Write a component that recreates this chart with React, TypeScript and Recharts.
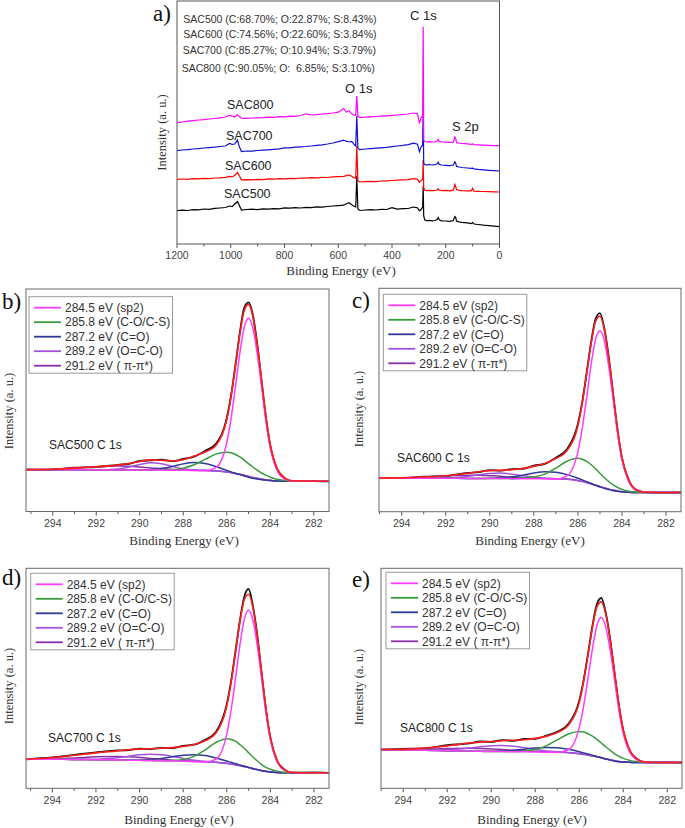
import React from "react";
import { LineChart, Line, XAxis, YAxis } from "recharts";

// ---------------- Panel a: XPS survey ----------------
const surveyEnergy = [
  1200, 1180, 1160, 1140, 1120, 1100, 1080, 1060, 1040, 1020, 1005, 995, 985, 975, 968, 960,
  940, 920, 900, 880, 860, 840, 820, 800, 780, 760, 740, 720, 700, 680, 660, 640, 620, 600,
  580, 570, 560, 550, 540, 535, 531, 527, 520, 500, 480, 460, 440, 420, 400, 380, 360, 340, 320,
  305, 298, 292, 286, 284, 282, 278, 270, 260, 250, 240, 232, 228, 224, 215, 200, 185, 172, 166,
  163, 160, 150, 140, 120, 105, 100, 95, 80, 60, 40, 20, 0,
];
const surveySAC500 = [
  33.3, 33.8, 33.5, 34.4, 34.1, 35.0, 34.7, 35.6, 36.0, 36.5, 38.0, 37.4, 40.0, 42.5, 38.5, 34.0,
  34.5, 34.8, 34.4, 35.1, 34.9, 35.4, 35.2, 36.1, 35.8, 36.3, 36.0, 36.7, 36.4, 37.2, 36.9, 37.5, 38.0, 38.4,
  38.8, 40.2, 41.2, 39.2, 37.5, 37.0, 68.0, 35.0, 33.5, 34.0, 34.3, 34.0, 34.7, 34.5, 36.4, 34.9, 35.3, 35.5, 37.0,
  36.2, 33.2, 34.5, 37.0, 58.0, 28.0, 24.0, 23.4, 23.7, 23.2, 23.5, 24.5, 26.5, 24.2, 23.2, 23.0, 22.7, 23.5, 27.5,
  26.8, 23.0, 22.2, 21.7, 21.1, 20.4, 21.4, 20.0, 19.5, 18.8, 18.4, 17.8, 17.3,
];
const surveySAC600 = [
  64.7, 65.0, 64.7, 65.4, 65.1, 65.7, 65.4, 66.0, 66.2, 66.7, 67.6, 67.1, 68.8, 71.5, 68.2, 64.2,
  64.4, 64.1, 64.6, 64.4, 65.1, 64.8, 65.3, 65.1, 65.7, 65.4, 66.0, 65.8, 66.4, 66.1, 66.7, 66.5, 67.1, 67.4,
  67.7, 68.3, 69.0, 67.8, 66.0, 65.5, 98.0, 63.5, 62.0, 62.4, 62.7, 62.4, 63.0, 63.2, 63.5, 63.8, 64.1, 64.4, 65.4,
  64.6, 61.7, 63.6, 64.5, 84.0, 56.0, 53.8, 53.4, 53.7, 53.3, 53.5, 54.2, 55.2, 53.8, 53.4, 53.6, 53.2, 53.8, 59.5,
  57.2, 54.5, 53.7, 53.4, 53.1, 53.2, 55.7, 52.8, 52.7, 52.5, 52.3, 52.1, 52.0,
];
const surveySAC700 = [
  93.3, 94.0, 94.4, 95.0, 95.3, 96.0, 96.4, 96.8, 97.5, 98.0, 100.5, 99.7, 100.0, 104.0, 97.2, 92.5,
  93.0, 92.8, 93.5, 93.8, 94.2, 94.7, 95.1, 96.2, 96.1, 96.8, 97.2, 97.5, 98.0, 98.6, 99.2, 100.0, 101.0, 102.4,
  103.8, 102.8, 102.0, 102.6, 99.2, 98.0, 128.0, 96.0, 94.4, 95.0, 95.4, 95.8, 96.2, 96.6, 97.4, 98.0, 98.6, 99.4, 100.8,
  99.8, 92.3, 97.0, 99.0, 136.0, 81.0, 79.4, 79.1, 79.5, 79.0, 79.3, 80.2, 81.8, 79.6, 79.0, 78.7, 78.4, 79.0, 82.2,
  80.8, 77.6, 77.0, 76.5, 76.0, 75.6, 75.8, 75.2, 74.7, 74.2, 73.7, 73.3, 73.0,
];
const surveySAC800 = [
  121.3, 122.0, 122.8, 123.4, 124.0, 124.3, 125.0, 125.5, 126.2, 127.0, 128.5, 127.8, 127.2, 129.5, 127.4, 125.8,
  125.6, 126.0, 126.2, 126.4, 126.8, 126.7, 127.3, 127.2, 127.8, 127.6, 128.5, 130.2, 129.0, 129.4, 130.0, 130.4, 131.0, 131.8,
  135.5, 132.0, 133.2, 130.2, 129.0, 128.5, 148.0, 128.0, 126.6, 126.8, 127.2, 127.5, 127.8, 128.2, 128.6, 129.0, 129.5, 130.0, 131.0,
  130.2, 120.5, 126.0, 128.0, 217.3, 104.0, 102.5, 102.2, 102.4, 102.0, 102.2, 103.0, 104.7, 102.6, 102.0, 101.8, 101.5, 101.8, 107.0,
  105.6, 101.4, 101.0, 100.6, 100.1, 99.7, 100.0, 99.4, 99.1, 98.8, 98.6, 98.4, 98.3,
];
const surveyTicks = [1200, 1100, 1000, 900, 800, 700, 600, 500, 400, 300, 200, 100, 0];
const surveyNames = ["SAC500", "SAC600", "SAC700", "SAC800"];
const surveyColors = ["#000000", "#ff0000", "#1010d0", "#ff00ff"];
const compositionLines = [
  "SAC500 (C:68.70%; O:22.87%; S:8.43%)",
  "SAC600 (C:74.56%; O:22.60%; S:3.84%)",
  "SAC700 (C:85.27%; O:10.94%; S:3.79%)",
  "SAC800 (C:90.05%; O:  6.85%; S:3.10%)",
];

// ---------------- Panels b-e: C 1s high resolution ----------------
const c1sEnergy = [
  295.2, 294, 293, 292, 291, 290.5, 290, 289.5, 289, 288.5, 288, 287.5, 287, 286.5, 286,
  285.8, 285.6, 285.4, 285.2, 285, 284.8, 284.6, 284.4, 284.2, 284, 283.7, 283.4, 283, 282, 281.3,
];
const c1sTicks = [295, 294, 293, 292, 291, 290, 289, 288, 287, 286, 285, 284, 283, 282];
const componentNames = [
  "284.5 eV (sp2)",
  "285.8 eV (C-O/C-S)",
  "287.2 eV (C=O)",
  "289.2 eV (O=C-O)",
  "291.2 eV ( π-π*)",
];
const componentColors = ["#ff3cff", "#3a9a3a", "#2e3a94", "#a452e0", "#8a2ea6"];
const rawColor = "#151515";
const fitColor = "#ff1e1e";

// SAC500
const sac500Raw = [18.9, 18.8, 19.7, 20.0, 21.0, 21.4, 22.7, 23.0, 23.3, 22.6, 23.6, 24.7, 27.2, 30.4, 42.0, 52.3, 65.9, 80.3, 91.4, 94.0, 88.3, 75.4, 58.6, 42.3, 29.6, 19.4, 15.6, 13.7, 13.7, 13.5];
const sac500Fit = [18.8, 19.0, 19.5, 20.1, 20.85, 21.6, 22.5, 23.2, 23.0, 22.7, 23.3, 24.9, 26.75, 29.7, 41.35, 51.85, 65.5, 79.6, 90.2, 93.1, 87.5, 75.0, 59.0, 42.7, 30.0, 19.6, 15.4, 13.8, 13.6, 13.6];
const sac500Sp2 = [18.8, 18.8, 18.8, 18.7, 18.7, 18.7, 18.6, 18.6, 18.6, 18.5, 18.5, 18.4, 18.3, 19.7, 31.0, 41.9, 56.1, 71.1, 82.7, 86.8, 82.4, 71.0, 56.0, 40.5, 28.5, 18.8, 15.0, 13.7, 13.6, 13.6];
const sac500CO = [18.8, 18.8, 18.8, 18.7, 18.7, 18.7, 18.6, 18.6, 18.7, 18.8, 19.5, 21.0, 23.4, 25.8, 26.6, 26.4, 25.6, 24.5, 23.1, 21.5, 20.0, 18.6, 17.3, 16.3, 15.4, 14.5, 14.0, 13.7, 13.6, 13.6];
const sac500CdO = [18.8, 18.8, 18.8, 18.7, 18.7, 18.7, 18.65, 18.8, 19.3, 20.2, 21.4, 22.0, 21.6, 20.2, 18.5, 17.8, 17.2, 16.6, 16.0, 15.4, 14.9, 14.6, 14.3, 14.1, 13.9, 13.7, 13.6, 13.6, 13.6, 13.6];
const sac500OCO = [18.8, 18.8, 18.8, 18.7, 19.15, 20.0, 21.1, 21.9, 21.5, 20.25, 19.2, 18.6, 18.4, 18.2, 17.7, 17.4, 17.0, 16.6, 16.1, 15.6, 15.2, 14.8, 14.5, 14.2, 13.9, 13.7, 13.6, 13.6, 13.6, 13.6];
const sac500Pi = [18.8, 19.0, 19.5, 20.1, 20.4, 20.3, 20.0, 19.6, 19.3, 18.9, 18.7, 18.6, 18.5, 18.3, 17.8, 17.5, 17.1, 16.8, 16.3, 15.8, 15.3, 14.9, 14.6, 14.3, 14.0, 13.7, 13.6, 13.6, 13.6, 13.6];

// SAC600
const sac600Raw = [15.1, 15.0, 15.7, 16.0, 17.4, 17.7, 18.6, 18.4, 19.1, 19.2, 20.6, 21.4, 24.2, 27.9, 39.4, 49.3, 62.4, 75.9, 86.2, 88.9, 82.0, 69.2, 52.5, 36.4, 24.0, 14.4, 10.0, 8.8, 8.5, 8.6];
const sac600Fit = [15.0, 15.15, 15.5, 16.1, 17.2, 17.9, 18.4, 18.5, 18.8, 19.4, 20.3, 21.6, 23.8, 27.3, 38.6, 48.8, 61.9, 75.2, 85.15, 87.5, 81.5, 68.8, 52.9, 36.75, 24.3, 14.2, 10.2, 8.7, 8.6, 8.6];
const sac600Sp2 = [15.0, 15.0, 15.0, 15.0, 14.9, 14.9, 14.9, 14.9, 14.8, 14.8, 14.8, 14.7, 14.6, 16.0, 26.9, 37.5, 51.3, 65.8, 77.1, 81.0, 76.5, 65.1, 50.3, 35.0, 23.2, 13.7, 10.0, 8.7, 8.6, 8.6];
const sac600CO = [15.0, 15.0, 15.0, 15.0, 14.9, 14.9, 14.9, 14.9, 14.8, 15.0, 15.5, 16.8, 19.5, 22.6, 23.9, 23.5, 22.5, 21.0, 19.2, 17.2, 15.2, 13.5, 12.0, 10.85, 10.0, 9.2, 8.8, 8.65, 8.6, 8.6];
const sac600CdO = [15.0, 15.0, 15.0, 15.0, 14.9, 14.9, 15.0, 15.2, 15.55, 16.35, 17.3, 17.85, 17.65, 16.6, 15.0, 14.25, 13.45, 12.6, 11.85, 11.1, 10.45, 9.9, 9.4, 9.1, 8.9, 8.7, 8.6, 8.6, 8.6, 8.6];
const sac600OCO = [15.0, 15.0, 15.0, 15.15, 15.8, 16.5, 17.1, 17.3, 16.8, 16.1, 15.5, 14.95, 14.8, 14.5, 13.9, 13.5, 13.0, 12.4, 11.8, 11.2, 10.6, 10.0, 9.6, 9.2, 8.9, 8.7, 8.6, 8.6, 8.6, 8.6];
const sac600Pi = [15.0, 15.15, 15.5, 16.0, 16.3, 16.3, 16.1, 15.9, 15.5, 15.2, 15.05, 14.9, 14.8, 14.6, 14.0, 13.6, 13.1, 12.5, 11.9, 11.3, 10.7, 10.1, 9.7, 9.3, 9.0, 8.7, 8.6, 8.6, 8.6, 8.6];

// SAC700
const sac700Raw = [13.2, 14.0, 15.2, 16.3, 17.2, 17.4, 18.0, 17.8, 18.4, 18.3, 19.3, 19.8, 22.0, 25.6, 38.2, 48.8, 62.3, 76.1, 87.0, 90.6, 82.9, 69.6, 52.2, 35.7, 23.0, 12.7, 8.9, 7.1, 7.2, 7.0];
const sac700Fit = [13.35, 13.9, 15.0, 16.1, 17.0, 17.5, 17.8, 18.0, 18.2, 18.5, 19.0, 19.9, 21.6, 25.0, 37.5, 48.2, 61.7, 75.4, 85.7, 88.2, 82.1, 69.1, 52.6, 36.05, 23.25, 12.9, 8.75, 7.2, 7.1, 7.1];
const sac700Sp2 = [13.3, 13.2, 13.1, 13.0, 12.9, 12.8, 12.7, 12.6, 12.5, 12.4, 12.3, 12.1, 11.9, 13.2, 24.6, 35.6, 49.9, 64.9, 76.7, 80.9, 76.4, 64.9, 49.7, 34.1, 22.0, 12.3, 8.5, 7.2, 7.1, 7.1];
const sac700CO = [13.3, 13.2, 13.1, 13.0, 12.9, 12.8, 12.7, 12.6, 12.5, 12.6, 13.1, 14.5, 17.4, 20.8, 22.5, 22.2, 21.4, 19.9, 18.2, 16.2, 14.2, 12.4, 10.8, 9.55, 8.65, 7.8, 7.35, 7.15, 7.1, 7.1];
const sac700CdO = [13.3, 13.2, 13.1, 13.0, 12.9, 12.85, 12.9, 13.1, 13.6, 14.35, 15.05, 15.3, 14.9, 13.8, 12.4, 11.8, 11.25, 10.6, 10.0, 9.5, 8.9, 8.4, 7.95, 7.6, 7.4, 7.2, 7.1, 7.1, 7.1, 7.1];
const sac700OCO = [13.3, 13.2, 13.1, 13.2, 13.9, 14.55, 15.2, 15.5, 15.2, 14.5, 13.6, 12.75, 12.3, 11.8, 11.3, 11.0, 10.6, 10.2, 9.8, 9.4, 8.9, 8.5, 8.0, 7.7, 7.4, 7.2, 7.1, 7.1, 7.1, 7.1];
const sac700Pi = [13.3, 13.4, 13.75, 14.3, 14.5, 14.3, 14.0, 13.6, 13.15, 12.8, 12.5, 12.3, 12.1, 11.8, 11.4, 11.1, 10.8, 10.4, 10.0, 9.5, 9.0, 8.6, 8.1, 7.8, 7.5, 7.2, 7.1, 7.1, 7.1, 7.1];

// SAC800
const sac800Raw = [17.5, 17.9, 18.2, 19.6, 20.4, 21.3, 21.1, 21.9, 21.6, 22.4, 22.5, 23.9, 25.7, 29.2, 39.8, 49.3, 61.3, 73.9, 83.6, 86.5, 80.1, 68.2, 52.7, 37.8, 26.3, 17.0, 13.6, 11.8, 11.8, 11.6];
const sac800Fit = [17.6, 17.7, 18.3, 19.3, 20.6, 21.0, 21.3, 21.6, 21.8, 22.1, 22.7, 23.6, 25.3, 28.7, 39.05, 48.6, 60.7, 73.1, 82.4, 84.75, 79.4, 67.8, 53.1, 38.15, 26.6, 17.2, 13.45, 11.95, 11.7, 11.7];
const sac800Sp2 = [17.6, 17.4, 17.3, 17.1, 16.9, 16.8, 16.7, 16.7, 16.6, 16.6, 16.5, 16.4, 16.3, 17.5, 27.6, 37.4, 50.1, 63.4, 73.9, 77.6, 73.5, 63.2, 49.7, 35.7, 24.9, 16.3, 13.0, 11.8, 11.7, 11.7];
const sac800CO = [17.6, 17.4, 17.3, 17.1, 16.9, 16.8, 16.7, 16.7, 16.7, 16.95, 17.65, 19.3, 22.0, 24.7, 25.85, 25.55, 24.8, 23.7, 22.2, 20.6, 18.9, 17.3, 15.8, 14.55, 13.6, 12.7, 12.15, 11.85, 11.7, 11.7];
const sac800CdO = [17.6, 17.4, 17.3, 17.1, 16.9, 16.85, 16.8, 17.0, 17.3, 17.8, 18.3, 18.55, 18.4, 17.7, 16.6, 16.05, 15.55, 15.0, 14.45, 13.95, 13.35, 12.9, 12.45, 12.1, 11.9, 11.8, 11.7, 11.7, 11.7, 11.7];
const sac800OCO = [17.6, 17.4, 17.35, 17.5, 18.3, 18.9, 19.35, 19.5, 19.1, 18.45, 17.65, 17.0, 16.6, 16.3, 15.8, 15.5, 15.2, 14.8, 14.4, 13.9, 13.4, 13.0, 12.5, 12.2, 11.9, 11.8, 11.7, 11.7, 11.7, 11.7];
const sac800Pi = [17.6, 17.55, 17.75, 18.05, 18.2, 18.05, 17.85, 17.6, 17.25, 17.0, 16.8, 16.6, 16.5, 16.2, 15.7, 15.4, 15.1, 14.7, 14.3, 13.8, 13.3, 12.9, 12.5, 12.2, 11.9, 11.8, 11.7, 11.7, 11.7, 11.7];

// ---------------- layout ----------------
const PAGE_W = 685;
const PAGE_H = 828;
const AXIS_H = 30;
const SANS = "'Liberation Sans', Arial, Helvetica, sans-serif";
const SERIF = "'Liberation Serif', 'Times New Roman', Times, serif";

type Rect = { x1: number; x2: number; y1: number; y2: number };

const makeTick = (axisY: number, majorStep: number, labelDy: number, fontSize: number) => (props: any) => {
  const { x, payload } = props;
  const v = payload.value as number;
  const major = Math.abs(v / majorStep - Math.round(v / majorStep)) < 1e-6;
  return (
    <g>
      <line x1={x} x2={x} y1={axisY} y2={axisY + (major ? 4 : 2.5)} stroke="#555" strokeWidth={1} />
      {major && (
        <text x={x} y={axisY + labelDy} textAnchor="middle" fontSize={fontSize} fill="#444" fontFamily={SANS}>
          {v}
        </text>
      )}
    </g>
  );
};

type SeriesDef = { key: string; color: string; width: number };

function Panel(props: {
  rect: Rect;
  xDomain: [number, number];
  yDomain: [number, number];
  data: any[];
  series: SeriesDef[];
  ticks: number[];
  majorStep: number;
  labelDy: number;
  curve: "linear" | "monotone";
}) {
  const { rect, xDomain, yDomain, data, series, ticks, majorStep, labelDy, curve } = props;
  const margin = {
    left: rect.x1,
    right: PAGE_W - rect.x2,
    top: rect.y1,
    bottom: PAGE_H - rect.y2 - AXIS_H,
  };
  return (
    <div style={{ position: "absolute", left: 0, top: 0 }}>
      <LineChart width={PAGE_W} height={PAGE_H} data={data} margin={margin}>
        <XAxis
          dataKey="e"
          type="number"
          domain={xDomain}
          reversed
          allowDataOverflow
          ticks={ticks}
          interval={0}
          axisLine={false}
          tickLine={false}
          height={AXIS_H}
          tick={makeTick(rect.y2, majorStep, labelDy, 10.5)}
        />
        <YAxis type="number" domain={yDomain} hide allowDataOverflow />
        {series.map((s) => (
          <Line
            key={s.key}
            dataKey={s.key}
            type={curve}
            stroke={s.color}
            strokeWidth={s.width}
            dot={false}
            activeDot={false}
            isAnimationActive={false}
          />
        ))}
      </LineChart>
    </div>
  );
}

const surveyData = surveyEnergy.map((e, i) => ({
  e,
  s500: surveySAC500[i],
  s600: surveySAC600[i],
  s700: surveySAC700[i],
  s800: surveySAC800[i],
}));
const surveySeries: SeriesDef[] = ["s500", "s600", "s700", "s800"].map((k, i) => ({
  key: k,
  color: surveyColors[i],
  width: 1.2,
}));

function buildC1s(raw: number[], fit: number[], comps: number[][]) {
  return c1sEnergy.map((e, i) => ({
    e,
    raw: raw[i],
    fit: fit[i],
    c0: comps[0][i],
    c1: comps[1][i],
    c2: comps[2][i],
    c3: comps[3][i],
    c4: comps[4][i],
  }));
}

const c1sSeries: SeriesDef[] = [
  { key: "raw", color: rawColor, width: 1.8 },
  { key: "c4", color: componentColors[4], width: 1.5 },
  { key: "c3", color: componentColors[3], width: 1.5 },
  { key: "c2", color: componentColors[2], width: 1.5 },
  { key: "c1", color: componentColors[1], width: 1.5 },
  { key: "c0", color: componentColors[0], width: 1.5 },
  { key: "fit", color: fitColor, width: 1.6 },
];

const c1sPanels = [
  {
    id: "b",
    name: "SAC500 C 1s",
    rect: { x1: 26, x2: 329, y1: 289, y2: 511.5 },
    xDomain: [281.3, 295.23] as [number, number],
    data: buildC1s(sac500Raw, sac500Fit, [sac500Sp2, sac500CO, sac500CdO, sac500OCO, sac500Pi]),
    legend: { x: 29, y: 296.7 },
    tag: { x: 2, y: 309 },
    sampleLabel: { x: 49, y: 449 },
    yTitle: { x: 8.5, y: 411 },
    xTitle: { x: 184, y: 545 },
  },
  {
    id: "c",
    name: "SAC600 C 1s",
    rect: { x1: 379, x2: 681, y1: 288.3, y2: 511.7 },
    xDomain: [281.32, 295.03] as [number, number],
    data: buildC1s(sac600Raw, sac600Fit, [sac600Sp2, sac600CO, sac600CdO, sac600OCO, sac600Pi]),
    legend: { x: 383.3, y: 294.3 },
    tag: { x: 352, y: 308 },
    sampleLabel: { x: 397, y: 462 },
    yTitle: { x: 358.5, y: 409 },
    xTitle: { x: 530, y: 545 },
  },
  {
    id: "d",
    name: "SAC700 C 1s",
    rect: { x1: 26, x2: 329, y1: 568.3, y2: 788.3 },
    xDomain: [281.31, 295.21] as [number, number],
    data: buildC1s(sac700Raw, sac700Fit, [sac700Sp2, sac700CO, sac700CdO, sac700OCO, sac700Pi]),
    legend: { x: 30.7, y: 573.3 },
    tag: { x: 2, y: 584.5 },
    sampleLabel: { x: 48, y: 742 },
    yTitle: { x: 8.5, y: 686 },
    xTitle: { x: 179, y: 824 },
  },
  {
    id: "e",
    name: "SAC800 C 1s",
    rect: { x1: 381, x2: 682, y1: 568.3, y2: 788.3 },
    xDomain: [281.33, 295.01] as [number, number],
    data: buildC1s(sac800Raw, sac800Fit, [sac800Sp2, sac800CO, sac800CdO, sac800OCO, sac800Pi]),
    legend: { x: 386, y: 572.3 },
    tag: { x: 352, y: 586.5 },
    sampleLabel: { x: 400, y: 732 },
    yTitle: { x: 359, y: 687 },
    xTitle: { x: 532, y: 824 },
  },
];

const surveyRect: Rect = { x1: 177, x2: 499.5, y1: 1, y2: 244 };

export default function App() {
  return (
    <div style={{ position: "absolute", left: 0, top: 0, width: PAGE_W, height: PAGE_H, background: "#fff", overflow: "hidden" }}>
      <Panel
        rect={surveyRect}
        xDomain={[0, 1200]}
        yDomain={[0, 243]}
        data={surveyData}
        series={surveySeries}
        ticks={surveyTicks}
        majorStep={200}
        labelDy={14.5}
        curve="linear"
      />
      {c1sPanels.map((p) => (
        <Panel
          key={p.id}
          rect={p.rect}
          xDomain={p.xDomain}
          yDomain={[0, 100]}
          data={p.data}
          series={c1sSeries}
          ticks={c1sTicks}
          majorStep={2}
          labelDy={15.5}
          curve="monotone"
        />
      ))}
      <svg width={PAGE_W} height={PAGE_H} style={{ position: "absolute", left: 0, top: 0, pointerEvents: "none" }}>
        {/* panel a frame and texts */}
        <rect x={surveyRect.x1} y={surveyRect.y1} width={surveyRect.x2 - surveyRect.x1} height={surveyRect.y2 - surveyRect.y1} fill="none" stroke="#555" strokeWidth={1} />
        <text x={153} y={21} fontSize={23} fontFamily={SERIF} fill="#111">a)</text>
        {compositionLines.map((t, i) => (
          <text key={t} x={[183.3, 183.3, 182.7, 181.7][i]} y={[23, 38.3, 54, 72.3][i]} fontSize={10.5} fontFamily={SANS} fill="#333" style={{ whiteSpace: "pre" }}>
            {t}
          </text>
        ))}
        {surveyNames.map((n, i) => (
          <text key={n} x={[224, 225, 226, 227][i]} y={[197.5, 169.5, 139.5, 108.5][i]} fontSize={12.5} fontFamily={SANS} fill="#222">
            {n}
          </text>
        ))}
        <text x={345} y={92.5} fontSize={13} fontFamily={SANS} fill="#222">O 1s</text>
        <text x={410} y={19.5} fontSize={13} fontFamily={SANS} fill="#222">C 1s</text>
        <text x={452} y={130.5} fontSize={13} fontFamily={SANS} fill="#222">S 2p</text>
        <text x={341} y={275} textAnchor="middle" fontSize={13} fontFamily={SERIF} fill="#333">Binding Energy (eV)</text>
        <text transform="translate(165.5,132.5) rotate(-90)" textAnchor="middle" fontSize={12.5} fontFamily={SERIF} fill="#333">Intensity (a. u.)</text>

        {c1sPanels.map((p) => (
          <g key={p.id}>
            <rect x={p.rect.x1} y={p.rect.y1} width={p.rect.x2 - p.rect.x1} height={p.rect.y2 - p.rect.y1} fill="none" stroke="#6a6a6a" strokeWidth={1} />
            <text x={p.tag.x} y={p.tag.y} fontSize={23} fontFamily={SERIF} fill="#111">{p.id})</text>
            <rect x={p.legend.x} y={p.legend.y} width={143.5} height={76.5} fill="#fff" stroke="#9a9a9a" strokeWidth={1} />
            {componentNames.map((n, i) => {
              const cy = p.legend.y + 11 + i * 14.5;
              return (
                <g key={n}>
                  <line x1={p.legend.x + 5} x2={p.legend.x + 32} y1={cy} y2={cy} stroke={componentColors[i]} strokeWidth={1.8} />
                  <text x={p.legend.x + 36} y={cy + 4.2} fontSize={12} fontFamily={SANS} fill="#333" style={{ whiteSpace: "pre" }}>
                    {n}
                  </text>
                </g>
              );
            })}
            <text x={p.sampleLabel.x} y={p.sampleLabel.y} fontSize={12} fontFamily={SANS} fill="#222">{p.name}</text>
            <text x={p.xTitle.x} y={p.xTitle.y} textAnchor="middle" fontSize={13} fontFamily={SERIF} fill="#333">Binding Energy (eV)</text>
            <text transform={`translate(${p.yTitle.x + 4},${p.yTitle.y}) rotate(-90)`} textAnchor="middle" fontSize={12.5} fontFamily={SERIF} fill="#333">Intensity (a. u.)</text>
          </g>
        ))}
      </svg>
    </div>
  );
}
